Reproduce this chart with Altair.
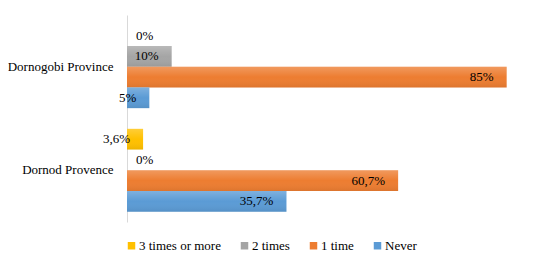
import altair as alt
import pandas as pd

provinces = ["Dornogobi Province", "Dornod Provence"]
series = ["3 times or more", "2 times", "1 time", "Never"]
colors = ["#FFC000", "#A5A5A5", "#ED7D31", "#5B9BD5"]
dornogobi = [0, 10, 85, 5]
dornod = [3.6, 0, 60.7, 35.7]

rows = []
for prov, vals in zip(provinces, [dornogobi, dornod]):
    for s, v in zip(series, vals):
        rows.append({"province": prov, "series": s, "value": v})
df = pd.DataFrame(rows)

FONT = "Liberation Serif"

base = alt.Chart(df).encode(
    y=alt.Y("province:N", sort=provinces, title=None,
            scale=alt.Scale(paddingInner=0.2, paddingOuter=0.1),
            axis=alt.Axis(domainColor="#D9D9D9", ticks=False, labelFont=FONT,
                          labelFontSize=13, labelColor="#000000", labelPadding=14,
                          labelAlign="right")),
    yOffset=alt.YOffset("series:N", sort=series, scale=alt.Scale(paddingInner=0, paddingOuter=0)),
    x=alt.X("value:Q", scale=alt.Scale(domain=[0, 90]), axis=None),
)

bars = base.mark_bar(cornerRadius=0).encode(
    color=alt.Color("series:N", sort=series,
                    scale=alt.Scale(domain=series, range=colors),
                    legend=alt.Legend(title=None, orient="none", direction="horizontal",
                                      legendX=-2, legendY=224, padding=0,
                                      symbolType="square", symbolSize=56, labelFont=FONT,
                                      labelFontSize=13, labelColor="#000000",
                                      columnPadding=17, labelOffset=1,
                                      symbolStrokeWidth=0))
)

overlay = base.mark_bar(
    fill=alt.Gradient(gradient="linear", x1=0, y1=0, x2=0, y2=1,
                      stops=[alt.GradientStop(offset=0, color="rgba(255,255,255,0.22)"),
                             alt.GradientStop(offset=0.5, color="rgba(255,255,255,0.0)"),
                             alt.GradientStop(offset=1, color="rgba(0,0,0,0.07)")])
)

label_expr = "replace(format(datum.value, '.1~f'), '.', ',') + '%'"

labels_nz = base.transform_filter("datum.value > 0").transform_calculate(
    lab=label_expr
).mark_text(align="right", dx=-13, font=FONT, fontSize=13, color="#000000").encode(
    text="lab:N"
)

labels_z = base.transform_filter("datum.value == 0").transform_calculate(
    lab=label_expr
).mark_text(align="left", dx=9, font=FONT, fontSize=13, color="#000000").encode(
    text="lab:N"
)

chart = alt.layer(bars, overlay, labels_nz, labels_z).properties(
    width=402, height=207,
    autosize="none",
    padding={"left": 119, "top": 7, "right": 7, "bottom": 32},
).configure_view(stroke=None)

chart.save("out.html", embed_options={"renderer": "svg", "actions": False})
